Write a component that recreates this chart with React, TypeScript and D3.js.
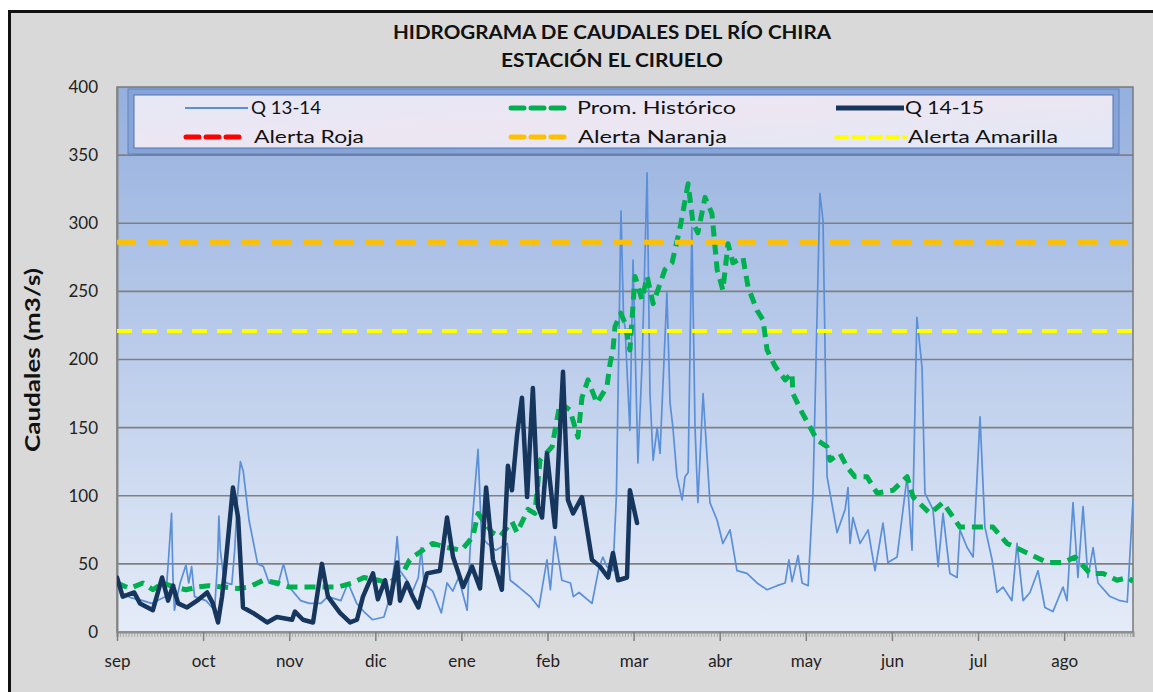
import React, { useEffect, useRef } from "react";
import * as d3 from "d3";

// ---------- data ----------
const MONTHS = ["sep", "oct", "nov", "dic", "ene", "feb", "mar", "abr", "may", "jun", "jul", "ago"];
const DAYS_PER_TICK = 30;
const N_DAYS = 354;
const Y_TICKS = [0, 50, 100, 150, 200, 250, 300, 350, 400];

// [day index from 1 sep, caudal m3/s]
const Q_13_14: [number, number][] = [
  [0, 40], [2, 28], [5, 25], [9, 23], [12, 21], [15, 24], [17, 26], [18, 55], [19, 87], [19.5, 40], [20, 16],
  [22, 36], [24, 49], [25, 36], [26, 48], [27, 26], [31, 23], [34, 16], [35, 50], [35.5, 85], [36, 60], [37, 43],
  [38, 36], [40, 35], [41, 60], [42, 100], [43, 125], [44, 118], [46, 82], [49, 50], [51, 48], [53, 36], [56, 34],
  [58, 50], [60, 33], [64, 23], [67, 21], [71, 21], [73.5, 26], [78, 23], [80.5, 36], [83.5, 21], [86, 15], [89, 9],
  [93, 11], [95, 25], [97, 55], [97.6, 70], [98.6, 45], [101, 38], [103, 30], [105, 40], [106, 62], [107, 35],
  [110, 30], [113, 14], [115, 36], [117, 30], [119, 40], [122, 16], [123, 60], [124.7, 106], [125.8, 134], [127, 70],
  [129, 65], [132, 60], [136, 65], [137, 38], [140, 33], [144, 26], [147, 18], [149.8, 53], [151, 31], [152.6, 70],
  [155, 38], [158, 36], [159, 26], [161, 29], [165.5, 21], [168, 48], [169.3, 55], [170.7, 48], [172.8, 45],
  [174, 100], [175.6, 309], [176.5, 230], [177, 224], [178.7, 148], [179.8, 273], [181.5, 124], [183, 200],
  [184.7, 337], [185.7, 175], [186.8, 126], [188.2, 150], [189.2, 131], [191.6, 249], [192.7, 168], [193.7, 150],
  [195.1, 114], [196.9, 97], [197.9, 114], [199, 117], [200.3, 297], [201.4, 150], [202.4, 95], [204.2, 175],
  [206.6, 95], [209.1, 82], [211.1, 65], [213.6, 75], [216, 45], [219.5, 43], [223, 36], [226.5, 31], [230, 34],
  [232.8, 36], [234.1, 53], [235.2, 37], [237.3, 56], [238.7, 36], [240.8, 34], [242.5, 102], [244.9, 322],
  [246, 302], [247.4, 114], [250.9, 73], [253.7, 90], [254.7, 106], [255.4, 65], [256.4, 84], [258.9, 65],
  [261.7, 75], [264.1, 45], [266.9, 80], [268.6, 51], [271.8, 55], [275.3, 114], [277, 60], [278.7, 231],
  [280.5, 194], [281.5, 102], [284.3, 90], [286.1, 48], [287.8, 87], [290.2, 43], [292.7, 40], [293.7, 75],
  [296.2, 62], [298.3, 55], [300.7, 158], [302.4, 77], [304.9, 53], [306.6, 29], [308.7, 33], [311.8, 23],
  [313.6, 65], [315.7, 23], [318.1, 29], [320.9, 45], [323.3, 18], [326.1, 15], [329.6, 33], [331, 23], [333.1, 95],
  [334.8, 40], [336.6, 92], [338.3, 40], [340.1, 62], [341.8, 36], [346, 26], [349.5, 23], [352, 22], [354, 97],
];

const PROM_HISTORICO: [number, number][] = [
  [0, 36], [4.5, 32], [9, 36], [12.5, 31], [16, 36], [20, 33], [24, 31], [28, 33], [32, 34], [37, 33], [42, 32],
  [46, 33], [51, 38], [56, 36], [60, 33], [65, 33], [70, 33], [77, 33], [82, 36], [86, 40], [91, 38], [95, 36],
  [100, 45], [102, 53], [103, 55], [110, 65], [115, 62], [120, 60], [124, 70], [125.8, 87], [130.7, 73],
  [133.4, 70], [137.6, 81], [139.4, 73], [143.2, 90], [145.6, 87], [147.4, 126], [151.6, 136], [153.3, 156],
  [154.4, 168], [157.8, 163], [160.6, 143], [162, 172], [164.1, 185], [167.2, 168], [170.7, 180], [171.8, 197],
  [172.8, 207], [173.5, 224], [175.5, 234], [177, 227], [178.7, 207], [180.5, 261], [182.9, 244], [184.7, 261],
  [186.8, 241], [190.9, 266], [193.4, 271], [196.2, 297], [199, 329], [200.7, 300], [202.4, 293], [204.9, 319],
  [207.3, 307], [209.1, 266], [211.1, 251], [212.9, 285], [214.6, 271], [218.1, 275], [219.9, 253], [223, 236],
  [225.1, 229], [226.5, 207], [229.3, 195], [232.8, 185], [235.2, 190], [235.5, 175], [238.7, 161], [240.8, 153],
  [243.9, 141], [247.4, 136], [248.4, 126], [251.9, 131], [254.4, 121], [257.1, 114], [261.3, 114], [264.8, 102],
  [270.4, 104], [275.3, 114], [277.4, 99], [283.3, 87], [287.8, 95], [293.7, 77], [299.7, 77], [305.2, 77],
  [310.1, 65], [317.1, 58], [324, 51], [329.6, 51], [333.8, 55], [339, 43], [343.6, 43], [348.4, 38], [352.3, 40],
  [354, 37],
];

const Q_14_15: [number, number][] = [
  [0, 40], [2, 26], [6, 29], [8, 21], [12.5, 16], [15.7, 40], [17.8, 23], [19.5, 34], [21.3, 21], [24.4, 18],
  [27.9, 23], [31.4, 29], [33.4, 21], [35.2, 7], [36.6, 26], [37.6, 45], [40.4, 106], [42.2, 84], [43.9, 18],
  [47.4, 14], [52.3, 7], [55.7, 11], [61, 9], [62, 15], [64.8, 9], [68.3, 7], [71.4, 50], [73.5, 26], [77.7, 14],
  [81.2, 7], [83.6, 9], [85.7, 26], [89.2, 43], [90.9, 24], [93.4, 38], [95.1, 21], [97.6, 51], [98.6, 23],
  [101, 36], [103, 26], [105, 18], [108, 43], [112.5, 45], [115, 84], [117.1, 55], [120.6, 33], [123.7, 48],
  [126.5, 32], [128.6, 106], [131, 53], [134.1, 31], [136.2, 122], [137.6, 104], [139.4, 145], [141.1, 172],
  [142.9, 99], [144.9, 179], [146.7, 92], [148.1, 84], [149.8, 131], [152.6, 77], [155.4, 191], [157.1, 97],
  [158.9, 87], [162, 99], [165.5, 53], [168.3, 48], [171.1, 40], [172.8, 58], [174.6, 38], [177.7, 40],
  [178.7, 104], [181.2, 80],
];

const ALERTA_NARANJA = 286;
const ALERTA_AMARILLA = 221;

const TITLE_1 = "HIDROGRAMA DE CAUDALES  DEL RÍO CHIRA";
const TITLE_2 = "ESTACIÓN EL CIRUELO";
const Y_TITLE = "Caudales (m3/s)";

const LEGEND = [
  { label: "Q 13-14", color: "#5b8fd8", width: 2, dash: null, x1: 185, x2: 248, tx: 251, row: 0, tl: 70 },
  { label: "Prom. Histórico", color: "#00b050", width: 5, dash: "13 7", x1: 511, x2: 568, tx: 577, row: 0, tl: 159 },
  { label: "Q 14-15", color: "#17365d", width: 5, dash: null, x1: 836, x2: 904, tx: 905, row: 0, tl: 79 },
  { label: "Alerta Roja", color: "#ff0000", width: 5, dash: "13 7", x1: 186, x2: 242, tx: 254, row: 1, tl: 110 },
  { label: "Alerta Naranja", color: "#ffc000", width: 5, dash: "13 7", x1: 511, x2: 570, tx: 578, row: 1, tl: 149 },
  { label: "Alerta Amarilla", color: "#ffff00", width: 4, dash: "11 6", x1: 836, x2: 905, tx: 908, row: 1, tl: 150 },
];

const FONT = "Lato, 'Open Sans', sans-serif";

export default function App() {
  const ref = useRef<SVGSVGElement | null>(null);

  useEffect(() => {
    const svg = d3.select(ref.current);
    svg.selectAll("*").remove();
    const W = 1153, H = 692;
    const L = 117, R = 1133, T = 87, B = 632;

    const x = d3.scaleLinear().domain([0, N_DAYS]).range([L, R]);
    const y = d3.scaleLinear().domain([0, 400]).range([B, T]);

    const defs = svg.append("defs");
    const grad = defs.append("linearGradient").attr("id", "plotbg").attr("x1", 0).attr("y1", 0).attr("x2", 0).attr("y2", 1);
    grad.append("stop").attr("offset", "0%").attr("stop-color", "#95b0de");
    grad.append("stop").attr("offset", "50%").attr("stop-color", "#bccdeb");
    grad.append("stop").attr("offset", "100%").attr("stop-color", "#e5ecf8");
    const lg = defs.append("linearGradient").attr("id", "legbg").attr("x1", 0).attr("y1", 0).attr("x2", 1).attr("y2", 1);
    lg.append("stop").attr("offset", "0%").attr("stop-color", "#e6e8f6");
    lg.append("stop").attr("offset", "50%").attr("stop-color", "#ece6f2");
    lg.append("stop").attr("offset", "100%").attr("stop-color", "#e2e8f6");
    defs.append("clipPath").attr("id", "plotclip").append("rect").attr("x", L).attr("y", T).attr("width", R - L).attr("height", B - T);

    // page + frame
    svg.append("rect").attr("width", W).attr("height", H).attr("fill", "#ffffff");
    svg.append("rect").attr("x", 9.5).attr("y", 11.5).attr("width", W + 20).attr("height", H + 20)
      .attr("fill", "#d9d9d9").attr("stroke", "#111").attr("stroke-width", 3);

    // titles
    svg.append("text").attr("x", 612).attr("y", 39).attr("text-anchor", "middle")
      .attr("font-family", FONT).attr("font-weight", 700).attr("font-size", 18).attr("fill", "#111")
      .attr("textLength", 438).attr("lengthAdjust", "spacingAndGlyphs").text(TITLE_1);
    svg.append("text").attr("x", 612).attr("y", 67).attr("text-anchor", "middle")
      .attr("font-family", FONT).attr("font-weight", 700).attr("font-size", 18).attr("fill", "#111")
      .attr("textLength", 222).attr("lengthAdjust", "spacingAndGlyphs").text(TITLE_2);

    // plot background
    svg.append("rect").attr("x", L).attr("y", T).attr("width", R - L).attr("height", B - T).attr("fill", "url(#plotbg)");

    // gridlines
    svg.append("g").selectAll("line").data(Y_TICKS.filter((v) => v > 0 && v < 400)).join("line")
      .attr("x1", L).attr("x2", R).attr("y1", (d) => y(d)).attr("y2", (d) => y(d))
      .attr("stroke", "#808080").attr("stroke-width", 1.6);

    // plot border
    svg.append("rect").attr("x", L).attr("y", T).attr("width", R - L).attr("height", B - T)
      .attr("fill", "none").attr("stroke", "#7a7a7a").attr("stroke-width", 1.5);

    // y axis
    const yAxis = svg.append("g").attr("transform", `translate(${L},0)`)
      .call(d3.axisLeft(y).tickValues(Y_TICKS).tickSize(0).tickPadding(19).tickFormat(d3.format("d")));
    yAxis.select(".domain").attr("stroke", "#868686").attr("stroke-width", 2);
    yAxis.selectAll("text").attr("font-family", FONT).attr("font-size", 17).attr("fill", "#222");

    // x axis: minor ticks (daily) and major ticks (30 days)
    const minor = svg.append("g").attr("transform", `translate(0,${B})`)
      .call(d3.axisBottom(x).tickValues(d3.range(0, N_DAYS + 1, 1)).tickSize(5).tickFormat(() => ""));
    minor.select(".domain").attr("stroke", "#8a8a8a").attr("stroke-width", 2);
    minor.selectAll(".tick line").attr("stroke", "#9a9a9a").attr("stroke-width", 0.8);

    const majorVals = MONTHS.map((_, i) => i * DAYS_PER_TICK);
    const major = svg.append("g").attr("transform", `translate(0,${B})`)
      .call(d3.axisBottom(x).tickValues(majorVals).tickSize(9).tickPadding(14)
        .tickFormat((d) => MONTHS[Math.round(Number(d) / DAYS_PER_TICK)]));
    major.select(".domain").remove();
    major.selectAll(".tick line").attr("stroke", "#808080").attr("stroke-width", 1.5);
    major.selectAll("text").attr("font-family", FONT).attr("font-size", 17).attr("fill", "#222");

    // y title
    svg.append("text").attr("transform", "translate(40,360) rotate(-90)").attr("text-anchor", "middle")
      .attr("font-family", FONT).attr("font-weight", 700).attr("font-size", 20).attr("fill", "#111")
      .attr("textLength", 184).attr("lengthAdjust", "spacingAndGlyphs").text(Y_TITLE);

    // series
    const line = d3.line<[number, number]>().x((d) => x(d[0])).y((d) => y(d[1]));
    const plot = svg.append("g").attr("clip-path", "url(#plotclip)");
    plot.append("path").attr("d", line(Q_13_14)).attr("fill", "none").attr("stroke", "#5b8fd8")
      .attr("stroke-width", 1.7).attr("stroke-linejoin", "round");
    plot.append("path").attr("d", line(PROM_HISTORICO)).attr("fill", "none").attr("stroke", "#00b050")
      .attr("stroke-width", 5).attr("stroke-dasharray", "11 7").attr("stroke-linejoin", "round");
    plot.append("path").attr("d", line(Q_14_15)).attr("fill", "none").attr("stroke", "#17365d")
      .attr("stroke-width", 4.5).attr("stroke-linejoin", "round").attr("stroke-linecap", "round");

    plot.append("line").attr("x1", L).attr("x2", R).attr("y1", y(ALERTA_NARANJA)).attr("y2", y(ALERTA_NARANJA))
      .attr("stroke", "#ffc000").attr("stroke-width", 5).attr("stroke-dasharray", "19 12");
    plot.append("line").attr("x1", L).attr("x2", R).attr("y1", y(ALERTA_AMARILLA)).attr("y2", y(ALERTA_AMARILLA))
      .attr("stroke", "#ffff00").attr("stroke-width", 4).attr("stroke-dasharray", "15 10");

    // legend
    const lx = 131, ly = 92, lw = 985, lh = 59;
    svg.append("rect").attr("x", lx + 3).attr("y", ly + 4).attr("width", lw).attr("height", lh)
      .attr("fill", "#5d6d8a").attr("opacity", 0.45);
    svg.append("rect").attr("x", lx).attr("y", ly).attr("width", lw).attr("height", lh)
      .attr("fill", "url(#legbg)").attr("stroke", "#86a4d8").attr("stroke-width", 6);
    svg.append("rect").attr("x", lx - 3).attr("y", ly - 3).attr("width", lw + 6).attr("height", lh + 6)
      .attr("fill", "none").attr("stroke", "#5f82c0").attr("stroke-width", 1);
    svg.append("rect").attr("x", lx + 3).attr("y", ly + 3).attr("width", lw - 6).attr("height", lh - 6)
      .attr("fill", "none").attr("stroke", "#4f72b2").attr("stroke-width", 1);

    const rowY = [108, 137];
    const items = svg.append("g").selectAll("g").data(LEGEND).join("g");
    items.append("line").attr("x1", (d) => d.x1).attr("x2", (d) => d.x2)
      .attr("y1", (d) => rowY[d.row]).attr("y2", (d) => rowY[d.row])
      .attr("stroke", (d) => d.color).attr("stroke-width", (d) => d.width)
      .attr("stroke-dasharray", (d) => d.dash ?? null)
      .attr("stroke-linecap", (d) => (d.dash ? "round" : "butt"));
    items.append("text").attr("x", (d) => d.tx).attr("y", (d) => rowY[d.row] + 6)
      .attr("font-family", FONT).attr("font-size", 18).attr("fill", "#111")
      .attr("textLength", (d) => d.tl).attr("lengthAdjust", "spacingAndGlyphs")
      .text((d) => d.label);
  }, []);

  return (
    <div style={{ position: "fixed", left: 0, top: 0, width: 1153, height: 692 }}>
      <svg ref={ref} width={1153} height={692} style={{ display: "block" }} />
    </div>
  );
}
